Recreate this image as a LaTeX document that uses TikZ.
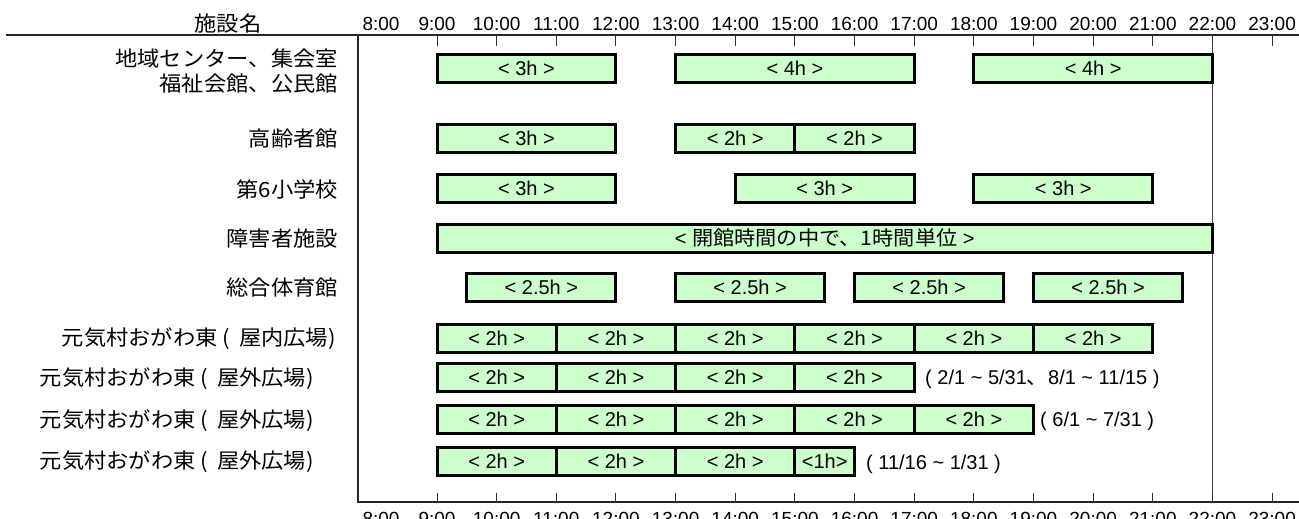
\documentclass[tikz,border=0pt]{standalone}
\usepackage{fontspec}
\setmainfont{Liberation Sans}
\newfontfamily\jpfont[FakeStretch=1.06]{Noto Sans CJK JP}
\newfontfamily\latfont{Liberation Sans}
\definecolor{slotfill}{HTML}{CCFFCC}
\newcommand\hx[1]{\fpeval{437+((#1)-9)*59.65}}
\newcommand\tslot[5]{\node[slot, minimum width=\fpeval{((#3)-(#2))*59.65}pt] (#1) at (\fpeval{437+(((#2)+(#3))/2-9)*59.65}, #4) {#5};}
\newcommand\genki[1]{元気村おがわ東\hspace{5pt}(\hspace{9pt}#1)}
\tikzset{
 slot/.style={draw=black, line width=3pt, fill=slotfill, minimum height=28pt, inner sep=0pt, font=\latfont\fontsize{20}{24}\selectfont},
 lab/.style={font=\jpfont\fontsize{21}{25}\selectfont, inner sep=0pt, anchor=east, align=right},
 tlab/.style={font=\latfont\fontsize{19}{22}\selectfont, inner sep=0pt, anchor=base},
 note/.style={font=\latfont\fontsize{20}{24}\selectfont, inner sep=0pt, anchor=base west},
 axisline/.style={line width=1.5pt, black!85},
 tickline/.style={line width=1pt, black!80},
}
\begin{document}
\begin{tikzpicture}[x=1pt, y=-1pt]
\useasboundingbox (0,0) rectangle (1299,519);
\clip (0,0) rectangle (1299,519);
% axes
\coordinate (tl) at (6,35);
\coordinate (tr) at (1299,35);
\coordinate (ax0) at (358,35);
\coordinate (ax1) at (358,502);
\coordinate (br) at (1299,502);
\coordinate (v0) at (\hx{22},37);
\coordinate (v1) at (\hx{22},502);
\draw[axisline] (tl) -- (tr);
\draw[axisline] (ax0) -- (ax1) -- (br);
\draw[line width=1.5pt, black!70] (v0) -- (v1);
\foreach \h in {9,...,23}{
  \draw[tickline] (\hx{\h},35) -- (\hx{\h},46);
  \draw[tickline] (\hx{\h},493) -- (\hx{\h},502);
}
\foreach \h in {9,...,23}{
  \node[tlab] (tt\h) at (\hx{\h},31) {\h:00};
  \node[tlab] (tb\h) at (\hx{\h},525.6) {\h:00};
}
\node[tlab] (tt8) at (381,31) {8:00};
\node[tlab] (tb8) at (381,525.6) {8:00};
\node[font=\jpfont\fontsize{21}{25}\selectfont, inner sep=0pt] (hdr) at (228,24) {施設名};
% row labels
\node[lab] (l1) at (338,71.5) {地域センター、集会室\\福祉会館、公民館};
\node[lab] (l2) at (338,139) {高齢者館};
\node[lab] (l3) at (338,189) {第6小学校};
\node[lab] (l4) at (338,239) {障害者施設};
\node[lab] (l5) at (338,288) {総合体育館};
\node[lab] (l6) at (336,339) {\genki{屋内広場}};
\node[lab] (l7) at (314,379) {\genki{屋外広場}};
\node[lab] (l8) at (314,421) {\genki{屋外広場}};
\node[lab] (l9) at (314,462) {\genki{屋外広場}};
% slots
\tslot{r1a}{9}{12}{68.5}{< 3h >}
\tslot{r1b}{13}{17}{68.5}{< 4h >}
\tslot{r1c}{18}{22}{68.5}{< 4h >}
\tslot{r2a}{9}{12}{138.5}{< 3h >}
\tslot{r2b}{13}{15}{138.5}{< 2h >}
\tslot{r2c}{15}{17}{138.5}{< 2h >}
\tslot{r3a}{9}{12}{188}{< 3h >}
\tslot{r3b}{14}{17}{188}{< 3h >}
\tslot{r3c}{18}{21}{188}{< 3h >}
\tslot{r4a}{9}{22}{238}{<\ {\jpfont 開館時間の中で、1時間単位}\ >}
\tslot{r5a}{9.5}{12}{287}{< 2.5h >}
\tslot{r5b}{13}{15.5}{287}{< 2.5h >}
\tslot{r5c}{16}{18.5}{287}{< 2.5h >}
\tslot{r5d}{19}{21.5}{287}{< 2.5h >}
\foreach \i in {0,...,5}{\tslot{r6\i}{9+2*\i}{11+2*\i}{338}{< 2h >}}
\foreach \i in {0,...,3}{\tslot{r7\i}{9+2*\i}{11+2*\i}{377}{< 2h >}}
\foreach \i in {0,...,4}{\tslot{r8\i}{9+2*\i}{11+2*\i}{419}{< 2h >}}
\foreach \i in {0,...,2}{\tslot{r9\i}{9+2*\i}{11+2*\i}{461.5}{< 2h >}}
\tslot{r9x}{15}{16}{461.5}{<1h>}
% notes
\node[note] (n7) at (925,384.5) {( 2/1 \textasciitilde{} 5/31{\jpfont 、}8/1 \textasciitilde{} 11/15 )};
\node[note] (n8) at (1040,426.5) {( 6/1 \textasciitilde{} 7/31 )};
\node[note] (n9) at (866,469) {( 11/16 \textasciitilde{} 1/31 )};
\end{tikzpicture}
\end{document}
